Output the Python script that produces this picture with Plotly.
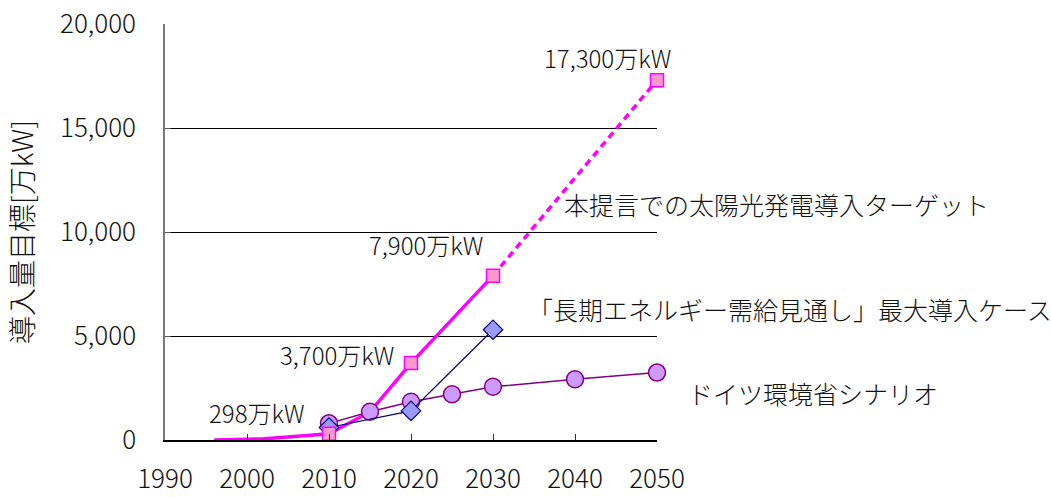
import plotly.graph_objects as go

# --- data -------------------------------------------------------------
hist_years = [1996, 1997, 1998, 1999, 2000, 2001, 2002, 2003, 2004, 2005,
              2006, 2007, 2008, 2009, 2010]
hist_values = [6, 9, 13, 21, 33, 45, 64, 86, 113, 142, 171, 192, 214, 263, 298]

target_line_years = [2010, 2015, 2020, 2030]
target_line_values = [298, 1350, 3700, 7900]

target_dash_years = [2030, 2050]
target_dash_values = [7900, 17300]

target_marker_years = [2010, 2020, 2030, 2050]
target_marker_values = [298, 3700, 7900, 17300]

meti_years = [2010, 2020, 2030]
meti_values = [600, 1400, 5300]

germany_years = [2010, 2015, 2020, 2025, 2030, 2040, 2050]
germany_values = [800, 1360, 1840, 2200, 2560, 2920, 3240]

x_ticks = [1990, 2000, 2010, 2020, 2030, 2040, 2050]
y_ticks = [0, 5000, 10000, 15000, 20000]

value_labels = ["298万kW", "3,700万kW", "7,900万kW", "17,300万kW"]
series_labels = ["本提言での太陽光発電導入ターゲット",
                 "「長期エネルギー需給見通し」最大導入ケース",
                 "ドイツ環境省シナリオ"]
y_title = "導入量目標[万kW]"

FONT = "Noto Sans CJK JP"
MAG = "#FF00FF"
X0, X1 = 1990, 2050

fig = go.Figure()

fig.add_trace(go.Scatter(
    x=hist_years + target_line_years[1:],
    y=hist_values + target_line_values[1:],
    mode="lines", line=dict(color=MAG, width=3.4),
    cliponaxis=False, showlegend=False, hoverinfo="skip"))

fig.add_trace(go.Scatter(
    x=target_dash_years, y=target_dash_values,
    mode="lines", line=dict(color=MAG, width=3.5, dash="7px,5px"),
    cliponaxis=False, showlegend=False, hoverinfo="skip"))

fig.add_trace(go.Scatter(
    x=germany_years, y=germany_values, mode="lines+markers",
    line=dict(color="#800080", width=1.5),
    marker=dict(symbol="circle", size=17, color="#CC99FF",
                line=dict(color="#800080", width=1.5)),
    cliponaxis=False, showlegend=False))

fig.add_trace(go.Scatter(
    x=meti_years, y=meti_values, mode="lines+markers",
    line=dict(color="#000080", width=1.2),
    marker=dict(symbol="diamond", size=15, color="#9999FF",
                line=dict(color="#000080", width=1.2)),
    cliponaxis=False, showlegend=False))

fig.add_trace(go.Scatter(
    x=target_marker_years, y=target_marker_values, mode="markers",
    marker=dict(symbol="square", size=13, color="#FF99CC",
                line=dict(color=MAG, width=1.5)),
    cliponaxis=False, showlegend=False))


def px_x(year):
    return (year - X0) / (X1 - X0)


val_pos = [(2001.2, 1300, "center"), (2018.2, 4090, "right"),
           (2029.0, 9380, "right"), (2044.0, 18400, "center")]
for txt, (xx, yy, anc) in zip(value_labels, val_pos):
    fig.add_annotation(x=px_x(xx), xref="paper", y=yy, text=txt, showarrow=False,
                       xanchor=anc, yanchor="middle",
                       font=dict(family=FONT, size=24, color="#111111", weight=300))

ser_pos = [(2038.4, 11350), (2034.0, 6300), (2053.5, 2260)]
for txt, (xx, yy) in zip(series_labels, ser_pos):
    fig.add_annotation(x=px_x(xx), xref="paper", y=yy, text=txt, showarrow=False,
                       xanchor="left", yanchor="middle",
                       font=dict(family=FONT, size=25, color="#111111", weight=300))

fig.update_layout(
    width=1051, height=497,
    margin=dict(l=165, r=394, t=24, b=57, autoexpand=False),
    paper_bgcolor="white", plot_bgcolor="white",
    font=dict(family=FONT, color="#111111"),
    xaxis=dict(range=[X0, X1], tickvals=x_ticks, ticks="inside", ticklen=6,
               tickcolor="#333333", showline=True, linecolor="black", linewidth=1.5,
               showgrid=False, zeroline=False, automargin=False,
               tickfont=dict(size=26, family=FONT, weight=300),
               ticklabelstandoff=15),
    yaxis=dict(range=[0, 20000], tickvals=y_ticks, tickformat=",", ticks="inside",
               ticklen=6, tickcolor="#555555", showline=True, linecolor="#777777",
               linewidth=1.5, showgrid=True, gridcolor="black", gridwidth=1,
               zeroline=False, automargin=False,
               tickfont=dict(size=26, family=FONT, weight=300),
               ticklabelstandoff=22,
               title=dict(text=y_title, font=dict(size=28, family=FONT, weight=300),
                          standoff=18)),
)

fig.write_html("out.html")
